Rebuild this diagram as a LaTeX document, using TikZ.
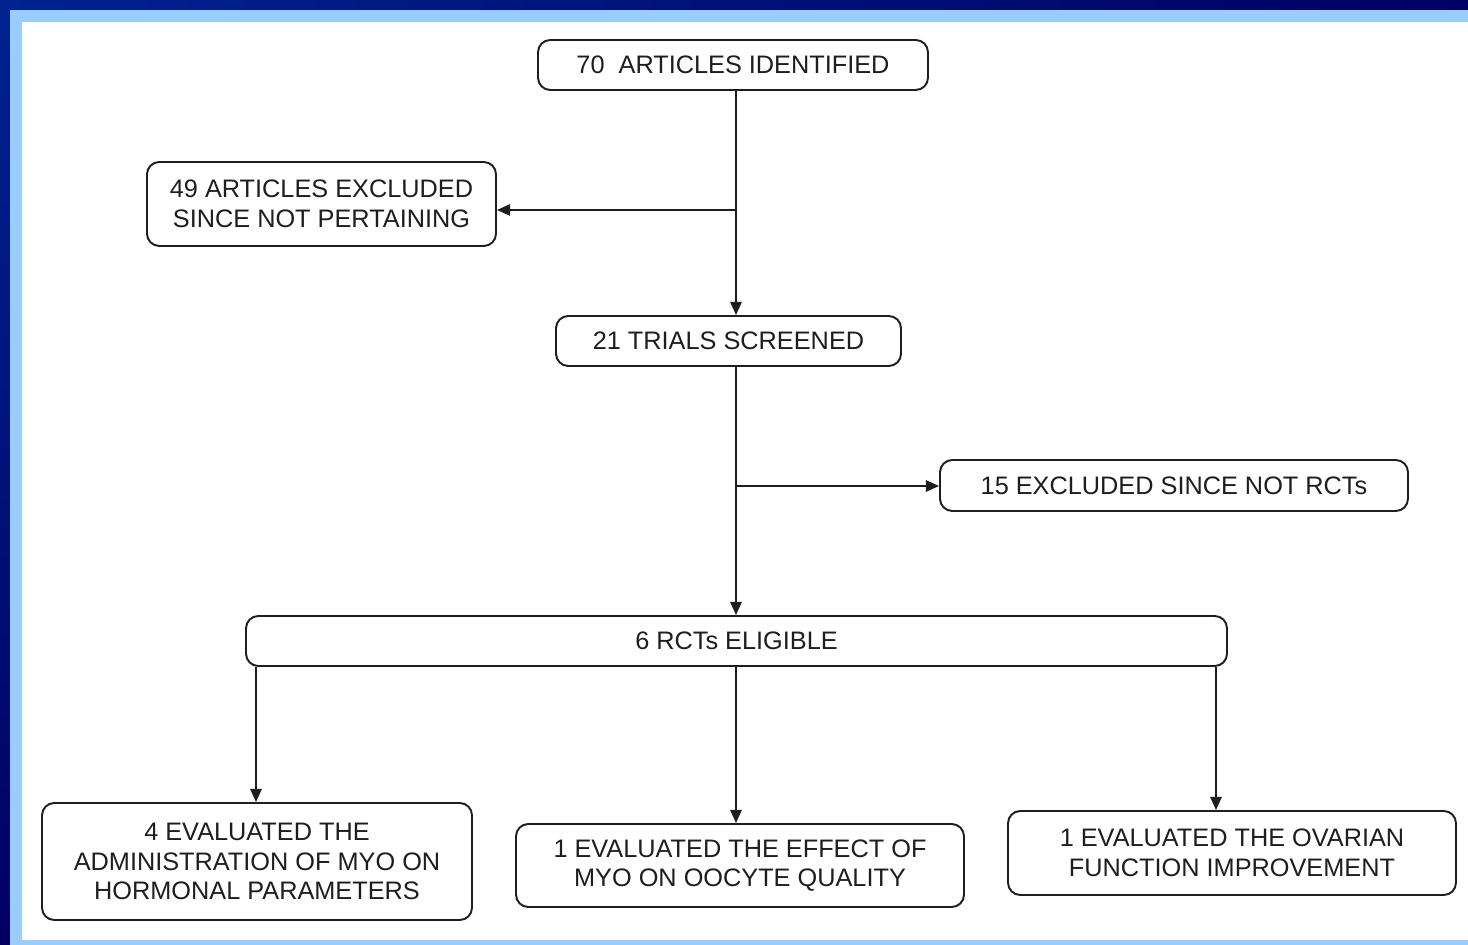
\documentclass[tikz,border=0pt]{standalone}
\usepackage{fontspec}
\setmainfont{Liberation Sans}
\usetikzlibrary{arrows.meta, positioning, calc}
\definecolor{bandlight}{HTML}{99CCFF}
\definecolor{banddark}{HTML}{00238F}
\definecolor{banddeep}{HTML}{000062}
\definecolor{inktext}{HTML}{1E1E1E}

\begin{document}
\begin{tikzpicture}[
  x=0.02cm, y=-0.02cm,
  box/.style={rectangle, draw=inktext, line width=1.1pt, fill=white, rounded corners=7pt, align=center, text=inktext, font=\fontsize{14.4}{17}\selectfont, inner sep=0pt},
  arrow/.style={-{Triangle[length=7.5pt,width=6.5pt]}, line width=1.1pt, color=inktext}
]
  % frame
  \useasboundingbox (0,0) rectangle (1468,945);
  \fill[left color=banddark, right color=banddeep] (0,0) rectangle (1468,10);
  \fill[top color=banddark, bottom color=banddeep] (0,0) rectangle (10,945);
  \fill[bandlight] (10,10) rectangle (1468,945);
  \fill[white] (22,22) rectangle (1468,940);

  % boxes
  \node[box, minimum width=390*0.02cm, minimum height=50*0.02cm] (identified) at (733,65) {70\ \ ARTICLES IDENTIFIED};
  \node[box, minimum width=349*0.02cm, minimum height=84*0.02cm] (notpertain) at (321.5,204) {49 ARTICLES EXCLUDED\\SINCE NOT PERTAINING};
  \node[box, minimum width=345*0.02cm, minimum height=50*0.02cm] (screened) at (728.5,341) {21 TRIALS SCREENED};
  \node[box, minimum width=468*0.02cm, minimum height=51*0.02cm] (notrct) at (1174,485.5) {15 EXCLUDED SINCE NOT RCTs};
  \node[box, minimum width=981*0.02cm, minimum height=50*0.02cm] (eligible) at (736.5,641) {6 RCTs ELIGIBLE};
  \node[box, minimum width=430*0.02cm, minimum height=117*0.02cm] (hormonal) at (257,861.5) {4 EVALUATED THE\\ADMINISTRATION OF MYO ON\\HORMONAL PARAMETERS};
  \node[box, minimum width=448*0.02cm, minimum height=83*0.02cm] (oocyte) at (740,865.5) {1 EVALUATED THE EFFECT OF\\MYO ON OOCYTE QUALITY};
  \node[box, minimum width=448*0.02cm, minimum height=84*0.02cm] (ovarian) at (1232,853) {1 EVALUATED THE OVARIAN\\FUNCTION IMPROVEMENT};

  % connectors
  \coordinate (split1) at (736,210);
  \coordinate (split2) at (736,486);
  \draw[line width=1.1pt, inktext] (identified.south -| split1) -- (split1);
  \draw[arrow] (split1) -- (screened.north -| split1);
  \draw[arrow] (split1) -- (notpertain.east |- split1);
  \draw[line width=1.1pt, inktext] (screened.south -| split2) -- (split2);
  \draw[arrow] (split2) -- (eligible.north -| split2);
  \draw[arrow] (split2) -- (notrct.west |- split2);

  \coordinate (drop1) at (256,0);
  \coordinate (drop2) at (736,0);
  \coordinate (drop3) at (1216,0);
  \draw[arrow] (eligible.south -| drop1) -- (hormonal.north -| drop1);
  \draw[arrow] (eligible.south -| drop2) -- (oocyte.north -| drop2);
  \draw[arrow] (eligible.south -| drop3) -- (ovarian.north -| drop3);
\end{tikzpicture}
\end{document}
